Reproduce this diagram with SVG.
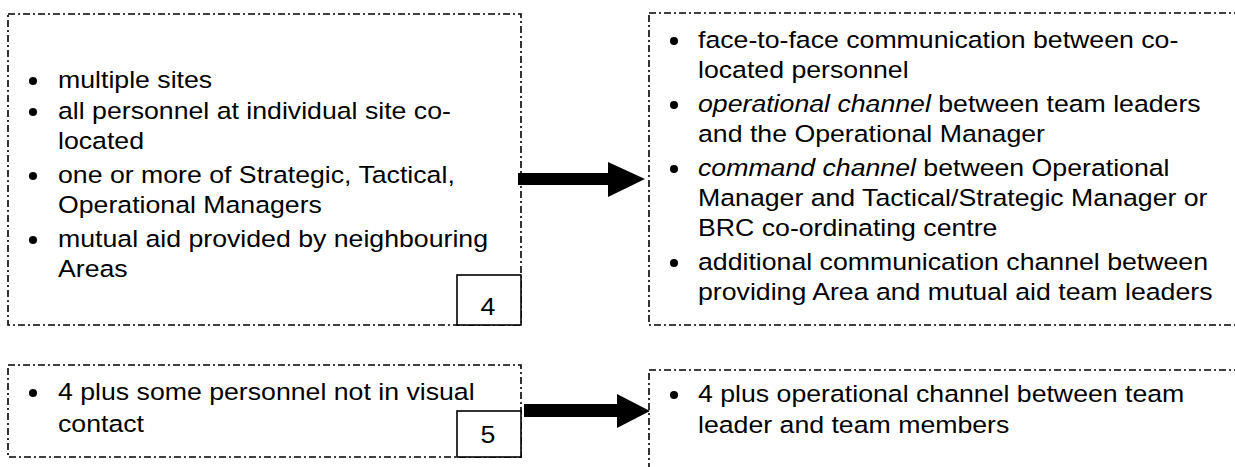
<svg xmlns="http://www.w3.org/2000/svg" width="1235" height="467" viewBox="0 0 1235 467">
  <style>
    .frame { fill: none; stroke: #000; stroke-width: 1.6; stroke-dasharray: 7 3 2 3; }
    .num { fill: #fff; stroke: #000; stroke-width: 1.6; }
    .t { font-family: "Liberation Sans", Arial, sans-serif; font-size: 23.5px; fill: #000; }
    .i { font-style: italic; }
    .arrow { fill: #000; stroke: none; }
    .dot { fill: #000; }
  </style>
  <rect width="1235" height="467" fill="#fff"/>

  <g id="node-case4">
    <rect class="frame" x="8" y="14" width="513" height="311"/>
    <circle class="dot" cx="33" cy="81" r="4"/>
    <text class="t" transform="translate(58 88) scale(1.136 1)">multiple sites</text>
    <circle class="dot" cx="33" cy="112" r="4"/>
    <text class="t" transform="translate(58 119) scale(1.136 1)">all personnel at individual site co-</text>
    <text class="t" transform="translate(58 149) scale(1.136 1)">located</text>
    <circle class="dot" cx="33" cy="176" r="4"/>
    <text class="t" transform="translate(58 183) scale(1.136 1)">one or more of Strategic, Tactical,</text>
    <text class="t" transform="translate(58 213) scale(1.136 1)">Operational Managers</text>
    <circle class="dot" cx="33" cy="240" r="4"/>
    <text class="t" transform="translate(58 247) scale(1.136 1)">mutual aid provided by neighbouring</text>
    <text class="t" transform="translate(58 277) scale(1.136 1)">Areas</text>
    <rect class="num" x="457" y="275" width="64" height="50"/>
    <text class="t" text-anchor="middle" transform="translate(488 315) scale(1.136 1)">4</text>
  </g>

  <g id="node-case4-comms">
    <rect class="frame" x="649" y="13" width="600" height="312"/>
    <circle class="dot" cx="674" cy="41" r="4"/>
    <text class="t" transform="translate(698 48) scale(1.136 1)">face-to-face communication between co-</text>
    <text class="t" transform="translate(698 78) scale(1.136 1)">located personnel</text>
    <circle class="dot" cx="674" cy="105" r="4"/>
    <text class="t" transform="translate(698 112) scale(1.136 1)"><tspan class="i">operational channel</tspan> between team leaders</text>
    <text class="t" transform="translate(698 142) scale(1.136 1)">and the Operational Manager</text>
    <circle class="dot" cx="674" cy="169" r="4"/>
    <text class="t" transform="translate(698 176) scale(1.136 1)"><tspan class="i">command channel</tspan> between Operational</text>
    <text class="t" transform="translate(698 206) scale(1.136 1)">Manager and Tactical/Strategic Manager or</text>
    <text class="t" transform="translate(698 236) scale(1.136 1)">BRC co-ordinating centre</text>
    <circle class="dot" cx="674" cy="263" r="4"/>
    <text class="t" transform="translate(698 270) scale(1.136 1)">additional communication channel between</text>
    <text class="t" transform="translate(698 300) scale(1.136 1)">providing Area and mutual aid team leaders</text>
  </g>

  <g id="node-case5">
    <rect class="frame" x="8" y="365" width="513" height="92"/>
    <circle class="dot" cx="33" cy="393" r="4"/>
    <text class="t" transform="translate(58 400) scale(1.136 1)">4 plus some personnel not in visual</text>
    <text class="t" transform="translate(58 432) scale(1.136 1)">contact</text>
    <rect class="num" x="457" y="411" width="64" height="46"/>
    <text class="t" text-anchor="middle" transform="translate(488 443) scale(1.136 1)">5</text>
  </g>

  <g id="node-case5-comms">
    <rect class="frame" x="649" y="370" width="600" height="200"/>
    <circle class="dot" cx="674" cy="395" r="4"/>
    <text class="t" transform="translate(698 402) scale(1.136 1)">4 plus operational channel between team</text>
    <text class="t" transform="translate(698 433) scale(1.136 1)">leader and team members</text>
  </g>

  <g id="connectors">
    <polygon class="arrow" points="518,173 608,173 608,162 645,179 608,197 608,185 518,185"/>
    <polygon class="arrow" points="524,404 617,404 617,394 650,411 617,428 617,417 524,417"/>
  </g>
</svg>
